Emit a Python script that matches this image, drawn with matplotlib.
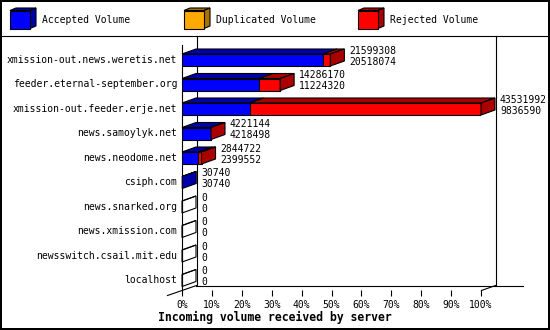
import matplotlib
matplotlib.use('Agg')
import matplotlib.pyplot as plt
from matplotlib.patches import Polygon, Rectangle
from matplotlib.lines import Line2D
from matplotlib.transforms import ScaledTranslation

# ---------------- data ----------------
servers = ['xmission-out.news.weretis.net', 'feeder.eternal-september.org',
           'xmission-out.feeder.erje.net', 'news.samoylyk.net', 'news.neodome.net',
           'csiph.com', 'news.snarked.org', 'news.xmission.com',
           'newsswitch.csail.mit.edu', 'localhost']
accepted = [20518074, 11224320, 9836590, 4218498, 2399552, 30740, 0, 0, 0, 0]
duplicated = [0, 0, 0, 0, 0, 0, 0, 0, 0, 0]
rejected = [1081234, 3061850, 33695402, 2646, 445170, 0, 0, 0, 0, 0]
series_names = ['Accepted Volume', 'Duplicated Volume', 'Rejected Volume']
tick_pct = [0, 10, 20, 30, 40, 50, 60, 70, 80, 90, 100]
title = 'Incoming volume received by server'

# ---------------- style ----------------
front_colors = ['#0000ff', '#ffaa00', '#ff0000']
dark_colors = ['#0000aa', '#aa7200', '#aa0000']
MONO = 'DejaVu Sans Mono'
FS = 7.05
LW = 0.8
W, H = 550, 330
L, R, T, B = 182, 481, 45, 290      # front plot plane (px)
DX, DY = 14, 5                      # depth offset (px)

fig = plt.figure(figsize=(W / 100, H / 100), dpi=100)
fig.patch.set_facecolor('white')
fig.patch.set_edgecolor('black')
fig.patch.set_linewidth(1.5)

# decoration layer in pixel coordinates
bg = fig.add_axes([0, 0, 1, 1], zorder=0)
bg.set_xlim(0, W)
bg.set_ylim(H, 0)
bg.axis('off')

def pline(xs, ys):
    bg.add_line(Line2D(xs, ys, color='black', lw=LW, snap=True))

# legend separator
pline([0, W], [35.5, 35.5])
# back walls / floor
pline([L + DX + 0.5, L + DX + 0.5], [36, B - DY])
pline([R + DX + 0.5, R + DX + 0.5], [36, B - DY])
pline([L + DX, 523], [B - DY + 0.5, B - DY + 0.5])
pline([L - 15, L + DX], [B + 5, B - DY])
pline([R, R + DX], [B, B - DY])

# legend
leg_x = [10, 184, 358]
for k, name in enumerate(series_names):
    x0, y0, w, h, ldx, ldy = leg_x[k], 10.5, 20, 18, 6, 2.5
    bg.add_patch(Polygon([(x0, y0), (x0 + w, y0), (x0 + w + ldx, y0 - ldy), (x0 + ldx, y0 - ldy)],
                         closed=True, fc=dark_colors[k], ec='black', lw=LW))
    bg.add_patch(Polygon([(x0 + w, y0), (x0 + w, y0 + h), (x0 + w + ldx, y0 + h - ldy), (x0 + w + ldx, y0 - ldy)],
                         closed=True, fc=dark_colors[k], ec='black', lw=LW))
    bg.add_patch(Rectangle((x0, y0), w, h, fc=front_colors[k], ec='black', lw=LW))
    bg.text(x0 + 32, 20, name, fontsize=FS, family=MONO, ha='left', va='center')

# ---------------- data axes ----------------
ax = fig.add_axes([L / W, 1 - B / H, (R - L) / W, (B - T) / H], zorder=1)
ax.patch.set_alpha(0)
n = len(servers)
totals = [a + d + r for a, d, r in zip(accepted, duplicated, rejected)]
vmax = max(totals)
ax.set_xlim(0, vmax)
ax.set_ylim(n - 0.5, -0.5)

sx = vmax / (R - L)          # data units per px (x)
sy = n / (B - T)             # data units per px (y, downward)
ddx, ddy = DX * sx, -DY * sy
bar_h = 12 * sy
shift = 2.75 * sy

series = [accepted, duplicated, rejected]
for i in range(n):
    yc = i + shift
    ytop, ybot = yc - bar_h / 2, yc + bar_h / 2
    left = 0
    last = 0
    for k in range(3):
        v = series[k][i]
        if v <= 0 and not (k == 0 and totals[i] == 0):
            continue
        ax.barh(yc, v, left=left, height=bar_h, color=front_colors[k], edgecolor='black',
                linewidth=LW, zorder=3)
        ax.add_patch(Polygon([(left, ytop), (left + v, ytop), (left + v + ddx, ytop + ddy),
                              (left + ddx, ytop + ddy)], closed=True, fc=dark_colors[k],
                             ec='black', lw=LW, clip_on=False, zorder=3))
        left += v
        if v > 0:
            last = k
    side_fc = dark_colors[last] if totals[i] > 0 else 'none'
    ax.add_patch(Polygon([(left, ytop), (left, ybot), (left + ddx, ybot + ddy),
                          (left + ddx, ytop + ddy)], closed=True, fc=side_fc,
                         ec='black', lw=LW, clip_on=False, zorder=4))
    # value labels: total above, accepted below
    for txt, off in ((str(totals[i]), 6.5), (str(accepted[i]), -4.5)):
        tr = ax.transData + ScaledTranslation((DX + 5) / 100, off / 100, fig.dpi_scale_trans)
        ax.text(left, i, txt, transform=tr, fontsize=FS, family=MONO,
                ha='left', va='center', clip_on=False, zorder=5)

# axes, ticks, labels
for s in ['top', 'right', 'bottom']:
    ax.spines[s].set_visible(False)
ax.spines['left'].set_linewidth(LW)
ax.set_xticks([vmax * p / 100 for p in tick_pct])
ax.set_xticklabels([f'{p}%' for p in tick_pct], family=MONO, fontsize=FS)
ax.tick_params(axis='x', length=4.5, width=LW, pad=2.5, direction='out')
ax.set_yticks(range(n))
ax.set_yticklabels(servers, family=MONO, fontsize=FS)
ax.tick_params(axis='y', length=0, pad=3.5)
for lbl in ax.get_yticklabels():
    lbl.set_transform(lbl.get_transform() + ScaledTranslation(0, -1.5 / 100, fig.dpi_scale_trans))

fig.text(0.5, 1 - 317 / H, title, ha='center', va='center', fontsize=8.3,
         fontweight='bold', family=MONO)

fig.savefig('out.png', dpi=100, facecolor='white', edgecolor='black')
